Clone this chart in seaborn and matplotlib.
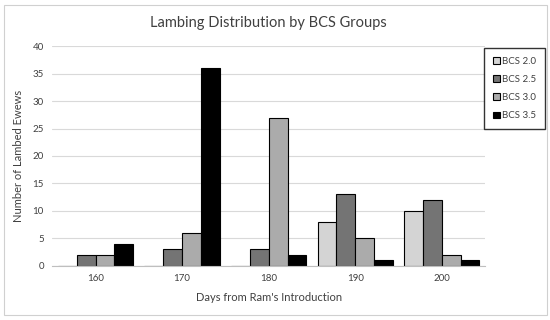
import pandas as pd
import matplotlib.pyplot as plt
import seaborn as sns
from matplotlib.patches import Patch, Rectangle

# values
days = [160, 170, 180, 190, 200]
groups = ["BCS 2.0", "BCS 2.5", "BCS 3.0", "BCS 3.5"]
bcs_20 = [0, 0, 0, 8, 10]
bcs_25 = [2, 3, 3, 13, 12]
bcs_30 = [2, 6, 27, 5, 2]
bcs_35 = [4, 36, 2, 1, 1]
colors = ["#d4d4d4", "#747474", "#ababab", "#000000"]

records = []
for g, vals in zip(groups, [bcs_20, bcs_25, bcs_30, bcs_35]):
    for d, v in zip(days, vals):
        records.append({"Day": str(d), "Group": g, "Count": v})
df = pd.DataFrame(records)

sns.set_style("white")
plt.rcParams["font.family"] = ["Lato", "DejaVu Sans"]

fig = plt.figure(figsize=(5.5, 3.2), dpi=100)
ax = fig.add_axes([0.095, 0.169, 0.787, 0.687])

sns.barplot(data=df, x="Day", y="Count", hue="Group", hue_order=groups,
            palette=colors, edgecolor="black", linewidth=0.8, width=0.87,
            saturation=1, legend=False, ax=ax)

ax.set_ylim(0, 40)
ax.set_yticks(range(0, 41, 5))
ax.grid(axis="y", color="#d9d9d9", linewidth=0.8)
ax.set_axisbelow(True)
for s in ["top", "right", "left"]:
    ax.spines[s].set_visible(False)
ax.spines["bottom"].set_color("#bfbfbf")
ax.tick_params(axis="both", length=0, labelsize=7, colors="#404040", pad=6)

ax.set_title("Lambing Distribution by BCS Groups", fontsize=10.5, color="#404040", pad=14)
ax.set_xlabel("Days from Ram's Introduction", fontsize=8, color="#404040", labelpad=6)
ax.set_ylabel("Number of Lambed Ewews", fontsize=8, color="#404040", labelpad=6)

handles = [Patch(facecolor=c, edgecolor="black", linewidth=0.8) for c in colors]
leg = fig.legend(handles, groups, loc="upper left", bbox_to_anchor=(0.88, 0.85),
                 fontsize=7, frameon=True, fancybox=False, handlelength=0.7,
                 handleheight=0.7, handletextpad=0.3, labelspacing=0.95,
                 borderpad=0.9, borderaxespad=0)
leg.get_frame().set_edgecolor("black")
leg.get_frame().set_linewidth(1.0)
for t in leg.get_texts():
    t.set_color("#404040")

fig.patches.append(Rectangle((0.007, 0.015), 0.987, 0.97, transform=fig.transFigure,
                             fill=False, edgecolor="#d0d0d0", linewidth=0.8))

fig.savefig("out.png", dpi=100)
